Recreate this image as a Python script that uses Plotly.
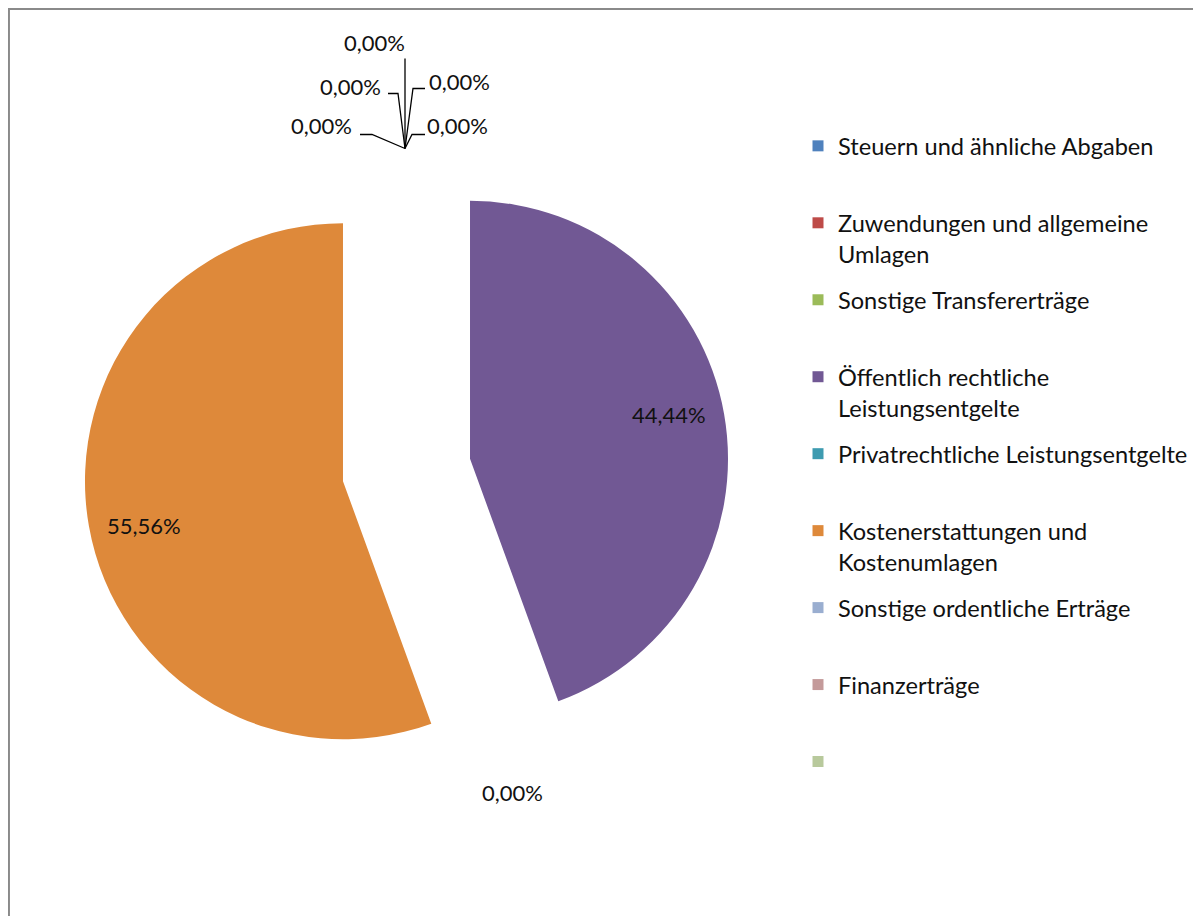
import math
import plotly.graph_objects as go

# ---------------- data ----------------
categories = [
    "Steuern und ähnliche Abgaben",
    "Zuwendungen und allgemeine Umlagen",
    "Sonstige Transfererträge",
    "Öffentlich rechtliche Leistungsentgelte",
    "Privatrechtliche Leistungsentgelte",
    "Kostenerstattungen und Kostenumlagen",
    "Sonstige ordentliche Erträge",
    "Finanzerträge",
    " ",
]
legend_labels = [
    "Steuern und ähnliche Abgaben",
    "Zuwendungen und allgemeine<br>Umlagen",
    "Sonstige Transfererträge",
    "Öffentlich rechtliche<br>Leistungsentgelte",
    "Privatrechtliche Leistungsentgelte",
    "Kostenerstattungen und<br>Kostenumlagen",
    "Sonstige ordentliche Erträge",
    "Finanzerträge",
    "",
]
values = [0, 0, 0, 44.44, 0, 55.56, 0, 0, 0]
colors = ["#4F81BD", "#BE4B48", "#9BBB59", "#715894", "#3E9BB0",
          "#DE893A", "#9AAED0", "#C49A9A", "#B8C99C"]
# zero slices that carry a label at the top cluster (Excel showed five of them)
top_labelled = [0, 1, 2, 6, 7]

# ---------------- layout constants (pixels of the page) ----------------
PAGE_OFF = 8            # body margin of the html page
W, H = 1185, 908        # figure size
CX, CY = 406.5, 470.0   # pie centre (page px)
R = 258.0               # pie radius
PULL = 0.25             # explode fraction of radius
LABEL_ROT = -2.5        # angular shift of the inside labels (deg)
FONT = "Lato, 'Open Sans', Arial, sans-serif"
TXT = "#111111"


def px(X):
    return (X - PAGE_OFF) / W


def py(Y):
    return 1 - (Y - PAGE_OFF) / H


def direction(deg):
    a = math.radians(deg)
    return math.sin(a), -math.cos(a)


total = sum(values)
cum = 0.0
mids = []
for v in values:
    mids.append((cum + v / 2) / total * 360.0)
    cum += v

def pct(v):
    return f"{v / total * 100:.2f}".replace(".", ",") + "%"

maxR = R * (1 + PULL)
fig = go.Figure()
fig.add_trace(go.Pie(
    labels=categories,
    values=values,
    sort=False,
    direction="clockwise",
    rotation=0,
    pull=[PULL] * len(values),
    marker=dict(colors=colors, line=dict(width=0)),
    textinfo="none",
    hoverinfo="label+percent",
    showlegend=False,
    domain=dict(x=[px(CX - maxR), px(CX + maxR)], y=[py(CY + maxR), py(CY - maxR)]),
))

# legend entries (one group each so the spacing is even)
for i, (lab, col) in enumerate(zip(legend_labels, colors)):
    lines = lab.split("<br>") if lab else ["&nbsp;"]
    while len(lines) < 2:
        lines.append("&nbsp;")
    fig.add_trace(go.Scatter(
        x=[None], y=[None], mode="markers",
        marker=dict(symbol="square", size=11, color=col),
        name="<br>".join(lines), legendgroup=f"g{i}", showlegend=True,
        hoverinfo="skip",
    ))

annotations = []
shapes = []
d = PULL * R
label_font = dict(family=FONT, size=22, color=TXT)

# labels of the non-zero slices, inside near the rim
for i, v in enumerate(values):
    if v > 0:
        ux, uy = direction(mids[i])
        lx, ly = direction(mids[i] + LABEL_ROT)
        ax = CX + d * ux + 0.79 * R * lx
        ay = CY + d * uy + 0.79 * R * ly
        annotations.append(dict(x=px(ax), y=py(ay), xref="paper", yref="paper",
                                text=pct(v), showarrow=False, font=label_font,
                                xanchor="center", yanchor="middle"))

# zero-slice labels at the top with leader lines
text_offsets = [(-31, -106), (-55, -62), (54, -67), (-83, -23), (53, -23)]
line_offsets = [
    [(0, -90), (0, 0)],
    [(-17, -55), (-7, -55), (0, 0)],
    [(20, -60), (8, -60), (0, 0)],
    [(-45, -14), (-33, -14), (0, 0)],
    [(20, -14), (7, -14), (0, 0)],
]
for k, i in enumerate(top_labelled):
    ux, uy = direction(mids[i])
    axp = CX - 1.5 + (R + d) * ux
    ayp = CY + (R + d) * uy + 1
    tx, ty = text_offsets[k]
    annotations.append(dict(x=px(axp + tx), y=py(ayp + ty), xref="paper", yref="paper",
                            text=pct(values[i]), showarrow=False, font=label_font,
                            xanchor="center", yanchor="middle"))
    pts = line_offsets[k]
    path = "M " + " L ".join(f"{px(axp + ox):.5f},{py(ayp + oy):.5f}" for ox, oy in pts)
    shapes.append(dict(type="path", path=path, xref="paper", yref="paper",
                       line=dict(color="#000000", width=1.3)))

# zero-slice label between the two exploded slices (bottom)
for i, v in enumerate(values):
    if v == 0 and i not in top_labelled and mids[i] % 360 != 0:
        ux, uy = direction(mids[i])
        axp = CX + (R + d) * ux
        ayp = CY + (R + d) * uy
        annotations.append(dict(x=px(axp - 4), y=py(ayp + 19), xref="paper", yref="paper",
                                text=pct(v), showarrow=False, font=label_font,
                                xanchor="center", yanchor="middle"))

# chart frame (left + top visible)
shapes.append(dict(type="rect", xref="paper", yref="paper",
                   x0=0.0008, x1=1.2, y0=-0.2, y1=1 - 0.0011,
                   line=dict(color="#8a8a8a", width=2), fillcolor="rgba(0,0,0,0)"))

fig.update_layout(
    width=W, height=H,
    margin=dict(l=0, r=0, t=0, b=0),
    paper_bgcolor="white", plot_bgcolor="white",
    xaxis=dict(visible=False), yaxis=dict(visible=False),
    font=dict(family=FONT, color=TXT),
    legend=dict(
        x=px(798), y=py(124), xanchor="left", yanchor="top",
        font=dict(family=FONT, size=23.6, color=TXT),
        tracegroupgap=12.6, valign="top", itemwidth=30,
        bgcolor="rgba(0,0,0,0)",
    ),
    annotations=annotations,
    shapes=shapes,
)

fig.write_html("out.html")
